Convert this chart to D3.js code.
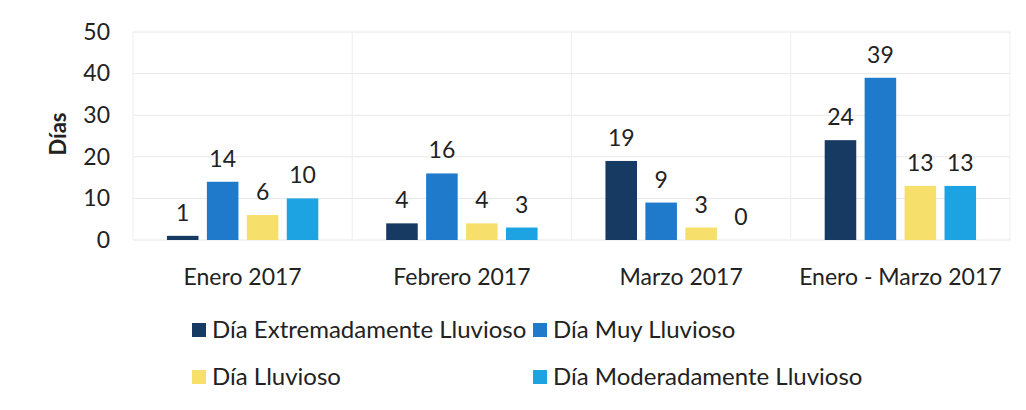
<!DOCTYPE html>
<html>
<head>
<meta charset="utf-8">
<script src="https://cdn.jsdelivr.net/npm/d3@7"></script>
<style>
body { margin: 0; background: #fff; }
text { font-family: Lato, "Open Sans", sans-serif; fill: #222; }
</style>
</head>
<body>
<div id="chart"></div>
<script>
var categories = ["Enero 2017", "Febrero 2017", "Marzo 2017", "Enero - Marzo 2017"];
var seriesNames = ["Día Extremadamente Lluvioso", "Día Muy Lluvioso", "Día Lluvioso", "Día Moderadamente Lluvioso"];
var extremo = [1, 4, 19, 24];
var muy = [14, 16, 9, 39];
var lluvioso = [6, 4, 3, 13];
var moderado = [10, 3, 0, 13];
var yTicks = [0, 10, 20, 30, 40, 50];
var colors = ["#173a63", "#1f7acb", "#f6df6a", "#1ea3e2"];

var seriesValues = [extremo, muy, lluvioso, moderado];

var width = 1026, height = 410;
var margin = {top: 32, left: 133, right: 16, bottom: 170};

var svg = d3.select("#chart").append("svg")
	.attr("width", width)
	.attr("height", height);

var x = d3.scaleBand().domain(categories).range([margin.left, width - margin.right]);
var y = d3.scaleLinear().domain([0, 50]).range([240, margin.top]);
var xs = d3.scaleBand().domain(d3.range(seriesNames.length)).range([0, x.bandwidth()]).paddingInner(0.21).paddingOuter(0.85);

// gridlines
svg.append("g").selectAll("line")
	.data(yTicks)
	.enter().append("line")
	.attr("x1", margin.left).attr("x2", width - margin.right)
	.attr("y1", function(d){ return y(d); }).attr("y2", function(d){ return y(d); })
	.attr("stroke", "#e8e8e8").attr("stroke-width", 1);

svg.append("g").selectAll("line")
	.data(categories.concat(["end"]))
	.enter().append("line")
	.attr("x1", function(d, i){ return margin.left + i * x.step(); })
	.attr("x2", function(d, i){ return margin.left + i * x.step(); })
	.attr("y1", y(50)).attr("y2", y(0))
	.attr("stroke", "#eeeeee").attr("stroke-width", 1);

// y axis
var yAxis = svg.append("g")
	.attr("transform", "translate(" + (margin.left - 23) + ",0)")
	.call(d3.axisLeft(y).tickValues(yTicks).tickSize(0).tickPadding(0));
yAxis.select(".domain").remove();
yAxis.selectAll("text").style("font-size", "23px").attr("fill", "#222");

// x axis labels
var xAxis = svg.append("g")
	.attr("transform", "translate(0," + y(0) + ")")
	.call(d3.axisBottom(x).tickSize(0).tickPadding(29));
xAxis.select(".domain").remove();
xAxis.selectAll("text").style("font-size", "23px").attr("fill", "#222");

svg.append("text")
	.attr("transform", "translate(66,134) rotate(-90)")
	.attr("text-anchor", "middle")
	.style("font-size", "22px")
	.style("font-weight", "bold")
	.text("Días");

// bars
var groups = svg.append("g").selectAll("g")
	.data(seriesValues)
	.enter().append("g")
	.attr("fill", function(d, i){ return colors[i]; });

groups.each(function(vals, si) {
	var g = d3.select(this);
	g.selectAll("rect")
		.data(vals)
		.enter().append("rect")
		.attr("x", function(d, ci){ return x(categories[ci]) + xs(si); })
		.attr("y", function(d){ return y(d); })
		.attr("width", xs.bandwidth())
		.attr("height", function(d){ return y(0) - y(d); });
	g.selectAll("text")
		.data(vals)
		.enter().append("text")
		.attr("x", function(d, ci){ return x(categories[ci]) + xs(si) + xs.bandwidth() / 2; })
		.attr("y", function(d){ return y(d) - 15; })
		.attr("text-anchor", "middle")
		.style("font-size", "23px")
		.attr("fill", "#222")
		.text(function(d){ return d; });
});

// legend
var legendCols = [192, 533];
var legendRows = [330, 377];
var legend = svg.append("g").selectAll("g")
	.data(seriesNames)
	.enter().append("g")
	.attr("transform", function(d, i){ return "translate(" + legendCols[i % 2] + "," + legendRows[Math.floor(i / 2)] + ")"; });
legend.append("rect")
	.attr("x", 0).attr("y", -7)
	.attr("width", 14).attr("height", 14)
	.attr("fill", function(d, i){ return colors[i]; });
legend.append("text")
	.attr("x", 20).attr("dy", "0.35em")
	.style("font-size", "24px")
	.text(function(d){ return d; });
</script>
</body>
</html>
